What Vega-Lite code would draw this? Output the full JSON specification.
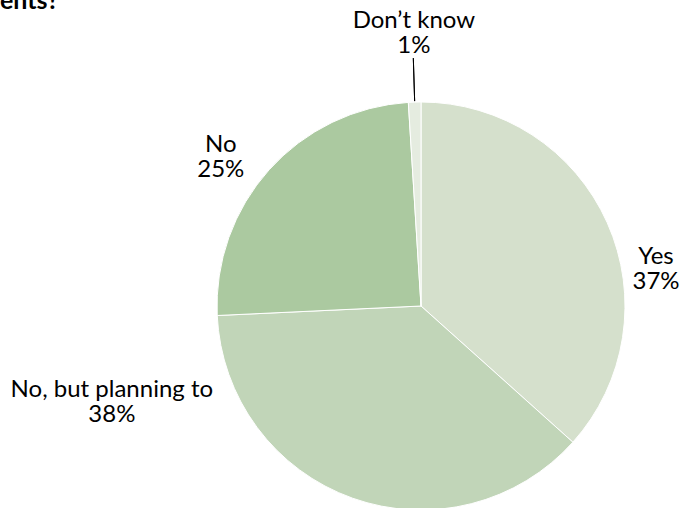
{
  "$schema": "https://vega.github.io/schema/vega-lite/v6.json",
  "autosize": "none",
  "width": 522,
  "height": 404,
  "padding": {"left": 160, "top": 104, "right": 0, "bottom": 0},
  "background": "white",
  "title": {"text": "ents?", "anchor": "start", "frame": "group", "orient": "top", "dx": -160, "dy": 25, "offset": 0, "baseline": "alphabetic", "font": "Lato", "fontSize": 25, "fontWeight": "bold", "color": "black"},
  "data": {"values": [
    {"category": "Yes", "value": 37, "order": 1, "label": "Yes\n37%"},
    {"category": "No, but planning to", "value": 38, "order": 2, "label": "No, but planning to\n38%"},
    {"category": "No", "value": 25, "order": 3, "label": "No\n25%"},
    {"category": "Don’t know", "value": 1, "order": 4, "label": "Don’t know\n1%"}
  ]},
  "encoding": {
    "theta": {"field": "value", "type": "quantitative", "stack": true},
    "order": {"field": "order", "type": "quantitative", "sort": "ascending"}
  },
  "layer": [
    {
      "mark": {"type": "arc", "radius": 204, "stroke": "white", "strokeWidth": 1},
      "encoding": {
        "color": {"field": "category", "type": "nominal", "legend": null,
          "scale": {"domain": ["Yes", "No, but planning to", "No", "Don’t know"], "range": ["#d5e0cc", "#c1d5b8", "#abc9a0", "#e5ece0"]}}
      }
    },
    {
      "mark": {"type": "text", "radius": 230, "font": "Lato", "fontSize": 24, "lineHeight": 25, "lineBreak": "\n", "align": "center", "baseline": "middle", "color": "black",
        "dx": {"expr": "datum.category === 'Yes' ? 25 : datum.category === 'No, but planning to' ? -232 : datum.category === 'No' ? -29 : 0"},
        "dy": {"expr": "datum.category === 'Yes' ? 45 : datum.category === 'No, but planning to' ? -133 : datum.category === 'No' ? -7 : -55"}},
      "encoding": {"text": {"field": "label"}}
    },
    {
      "transform": [
        {"stack": "value", "groupby": [], "as": ["start", "end"], "sort": [{"field": "order", "order": "ascending"}]},
        {"filter": "datum.category === 'Don’t know'"}
      ],
      "mark": {"type": "arc", "radius": 205, "radius2": 248, "stroke": "black", "strokeWidth": 1, "fill": null, "thetaOffset": -0.031, "theta2Offset": -0.031},
      "encoding": {
        "theta": {"field": "end", "type": "quantitative", "stack": null},
        "theta2": {"field": "end"}
      }
    }
  ]
}
